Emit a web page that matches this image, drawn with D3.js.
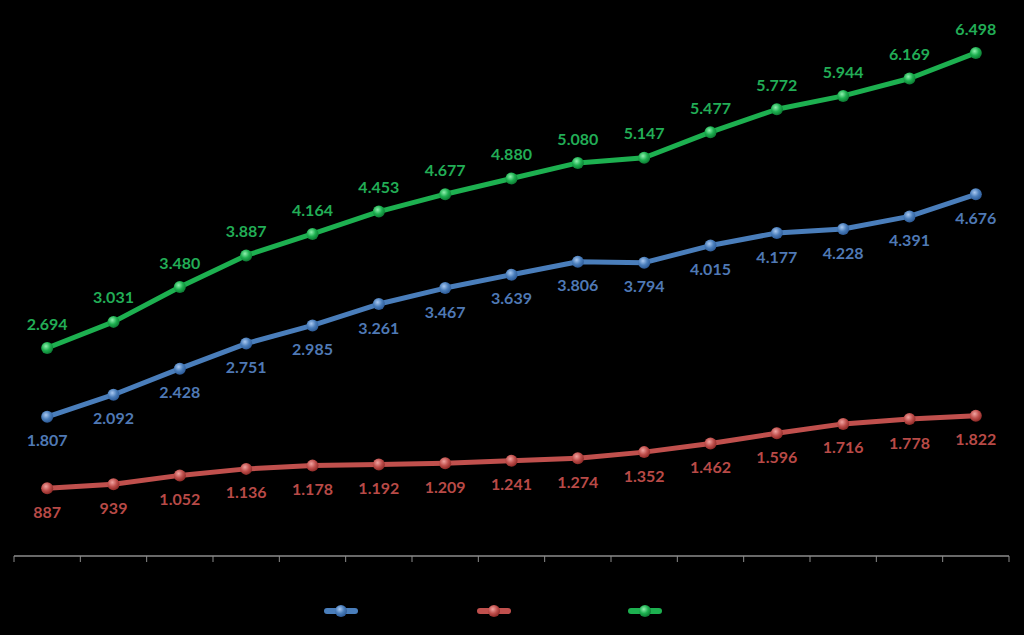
<!DOCTYPE html>
<html>
<head>
<meta charset="utf-8">
<script src="https://cdn.jsdelivr.net/npm/d3@7"></script>
<style>
  html, body { margin: 0; padding: 0; background: #000; }
  svg { display: block; }
</style>
</head>
<body>
<div id="vis"></div>
<script>
// data
var categories = ["1", "2", "3", "4", "5", "6", "7", "8", "9", "10", "11", "12", "13", "14", "15"];
var seriesBlue  = [1807, 2092, 2428, 2751, 2985, 3261, 3467, 3639, 3806, 3794, 4015, 4177, 4228, 4391, 4676];
var seriesRed   = [887, 939, 1052, 1136, 1178, 1192, 1209, 1241, 1274, 1352, 1462, 1596, 1716, 1778, 1822];
var seriesGreen = [2694, 3031, 3480, 3887, 4164, 4453, 4677, 4880, 5080, 5147, 5477, 5772, 5944, 6169, 6498];
var yDomain = [0, 7000];

var width = 1024, height = 635;

var svg = d3.select("#vis").append("svg")
    .attr("width", width)
    .attr("height", height)
    .style("background", "#000");

var series = [
  {key: "blue",  values: seriesBlue,  line: "#4a7ebb", text: "#4f79b5", light: "#a9c8f0", dark: "#2d5a96", pos: "below"},
  {key: "red",   values: seriesRed,   line: "#c0504d", text: "#b84a47", light: "#f0a3a0", dark: "#8e2a27", pos: "below"},
  {key: "green", values: seriesGreen, line: "#1db050", text: "#22ad56", light: "#8ff0ae", dark: "#0d7a33", pos: "above"}
];

// scales
var x = d3.scaleBand()
    .domain(categories)
    .range([14, 1009]);

var y = d3.scaleLinear()
    .domain(yDomain)
    .range([557, 14]);

var fmt = d3.formatLocale({decimal: ",", thousands: ".", grouping: [3], currency: ["", ""]}).format(",d");

// sphere-like gradients for the markers
var defs = svg.append("defs");
series.forEach(function(s) {
  var gr = defs.append("radialGradient")
      .attr("id", "grad-" + s.key)
      .attr("cx", "40%").attr("cy", "35%").attr("r", "65%");
  gr.append("stop").attr("offset", "0%").attr("stop-color", s.light);
  gr.append("stop").attr("offset", "55%").attr("stop-color", s.line);
  gr.append("stop").attr("offset", "100%").attr("stop-color", s.dark);
});

// x axis
var xAxis = svg.append("g")
    .attr("transform", "translate(0," + 556 + ")");

xAxis.append("line")
    .attr("x1", x.range()[0]).attr("x2", x.range()[1])
    .attr("stroke", "#8c8c8c").attr("stroke-width", 1.5);

var tickPos = categories.map(function(c) { return x(c); }).concat([x.range()[1]]);
xAxis.selectAll(".tick")
    .data(tickPos)
    .enter().append("line")
      .attr("class", "tick")
      .attr("x1", function(d) { return d; })
      .attr("x2", function(d) { return d; })
      .attr("y1", 0).attr("y2", 6)
      .attr("stroke", "#8c8c8c").attr("stroke-width", 1);

var cx = function(i) { return x(categories[i]) + x.bandwidth() / 2; };

var line = d3.line()
    .x(function(d, i) { return cx(i); })
    .y(function(d) { return y(d); });

var groups = svg.selectAll(".series")
    .data(series)
    .enter().append("g")
      .attr("class", "series");

groups.append("path")
    .attr("d", function(s) { return line(s.values); })
    .attr("fill", "none")
    .attr("stroke", function(s) { return s.line; })
    .attr("stroke-width", 5)
    .attr("stroke-linejoin", "round");

groups.selectAll("circle")
    .data(function(s) { return s.values.map(function(v, i) { return {s: s, v: v, i: i}; }); })
    .enter().append("circle")
      .attr("cx", function(d) { return cx(d.i); })
      .attr("cy", function(d) { return y(d.v); })
      .attr("r", 6)
      .attr("fill", function(d) { return "url(#grad-" + d.s.key + ")"; });

groups.selectAll("text")
    .data(function(s) { return s.values.map(function(v, i) { return {s: s, v: v, i: i}; }); })
    .enter().append("text")
      .attr("x", function(d) { return cx(d.i); })
      .attr("y", function(d) { return y(d.v) + (d.s.pos === "above" ? -24 : 24); })
      .attr("dy", "0.35em")
      .attr("text-anchor", "middle")
      .attr("font-family", "Lato, 'Open Sans', sans-serif")
      .attr("font-weight", "bold")
      .attr("font-size", 16)
      .attr("fill", function(d) { return d.s.text; })
      .text(function(d) { return fmt(d.v); });

// legend (markers only, as in the picture)
var legendX = [341, 494, 645];
var legend = svg.selectAll(".legend")
    .data(series)
    .enter().append("g")
      .attr("class", "legend")
      .attr("transform", function(s, i) { return "translate(" + legendX[i] + ",611)"; });

legend.append("line")
    .attr("x1", -14).attr("x2", 14)
    .attr("stroke", function(s) { return s.line; })
    .attr("stroke-width", 6)
    .attr("stroke-linecap", "round");

legend.append("circle")
    .attr("r", 6)
    .attr("fill", function(s) { return "url(#grad-" + s.key + ")"; });
</script>
</body>
</html>
